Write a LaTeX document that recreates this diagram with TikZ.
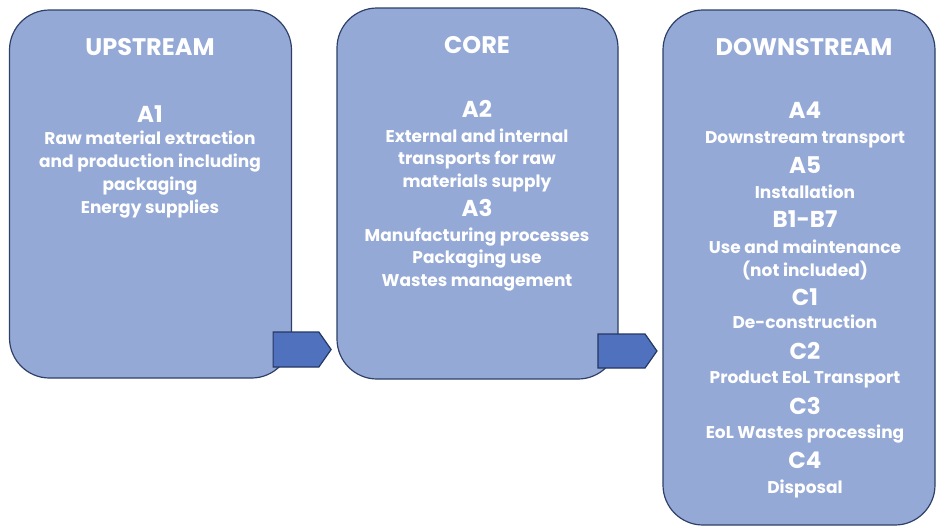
\documentclass[tikz,border=0pt]{standalone}
\usepackage{fontspec}
\setmainfont{Poppins}
\usetikzlibrary{shapes.symbols}
\definecolor{boxfill}{RGB}{149,169,215}
\definecolor{boxline}{RGB}{46,64,104}
\definecolor{arrowfill}{RGB}{79,113,190}
\definecolor{arrowline}{RGB}{36,56,98}
\tikzset{
    x=1pt, y=-1pt, % pixel-like coordinates, origin top left
    stage/.style={draw=boxline, fill=boxfill, line width=1.2pt, rounded corners=40pt, inner sep=0pt}, % the three big boxes
    flow/.style={signal, signal to=east, signal pointer angle=110, draw=arrowline, fill=arrowfill, line width=1.2pt, inner sep=0pt}, % small arrows
    title/.style={anchor=base, text=white, font=\bfseries\fontsize{24}{24}\selectfont},
    code/.style={anchor=base, text=white, font=\bfseries\fontsize{23}{23}\selectfont},
    body/.style={anchor=base, text=white, font=\bfseries\fontsize{17}{17}\selectfont},
}
\begin{document}
\begin{tikzpicture}
\useasboundingbox (0,0) rectangle (937,528);
% boxes
\node[stage, minimum width=282pt, minimum height=368pt] (upstream) at (150.5,194) {};
\node[stage, minimum width=281pt, minimum height=371pt] (core) at (477.5,193.5) {};
\node[stage, minimum width=272pt, minimum height=515pt] (downstream) at (799,267.5) {};
% arrows
\node[flow, minimum width=58pt, minimum height=35pt] (toCore) at (296,349.5) {};
\node[flow, minimum width=59pt, minimum height=34pt] (toDown) at (621.5,351) {};
% texts (y = baseline)
\node[title] (upTitle) at (150,55) {UPSTREAM};
\foreach \y/\s/\t [count=\i] in {122/code/A1, 144/body/Raw material extraction,
    167/body/and production including, 190/body/packaging, 213/body/Energy supplies}
    \node[\s] (up\i) at (150,\y) {\t};
\node[title] (coreTitle) at (477,53) {CORE};
\foreach \y/\s/\t [count=\i] in {117/code/A2, 142/body/External and internal,
    164/body/transports for raw, 187/body/materials supply, 216/code/A3,
    241/body/Manufacturing processes, 263/body/Packaging use, 286/body/Wastes management}
    \node[\s] (core\i) at (477,\y) {\t};
\node[title] (downTitle) at (804,55) {DOWNSTREAM};
\foreach \y/\s/\t [count=\i] in {118/code/A4, 143/body/Downstream transport,
    173/code/A5, 198/body/Installation, 227/code/B1-B7,
    253/body/Use and maintenance, 276/body/(not included), 305/code/C1,
    328/body/De-construction, 359/code/C2, 383/body/Product EoL Transport,
    414/code/C3, 438/body/EoL Wastes processing, 468/code/C4, 493/body/Disposal}
    \node[\s] (down\i) at (805,\y) {\t};
\end{tikzpicture}
\end{document}
